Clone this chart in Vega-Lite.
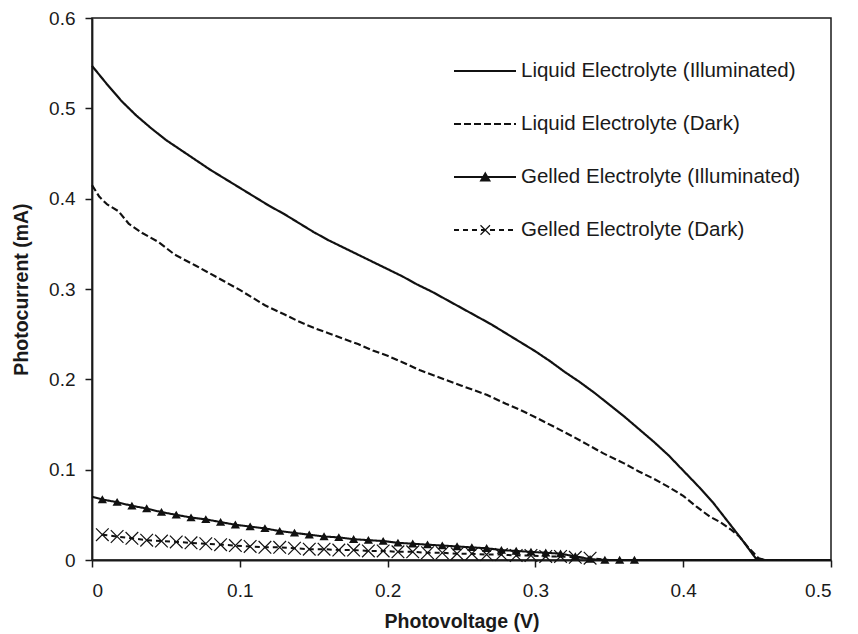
{
  "$schema": "https://vega.github.io/schema/vega-lite/v6.json",
  "width": 739,
  "height": 542,
  "autosize": {"type": "none"},
  "padding": {"left": 92, "top": 18, "right": 27, "bottom": 74},
  "background": "white",
  "config": {
    "font": "Liberation Sans",
    "view": {"stroke": "#1a1a1a", "strokeWidth": 1.5},
    "axis": {
      "grid": false,
      "domainColor": "#1a1a1a",
      "domainWidth": 1.8,
      "tickColor": "#1a1a1a",
      "tickWidth": 1.5,
      "tickSize": 7,
      "labelFont": "Liberation Sans",
      "labelFontSize": 19,
      "labelColor": "#1a1a1a",
      "titleFont": "Liberation Sans",
      "titleFontSize": 19.5,
      "titleFontWeight": "bold",
      "titleColor": "#1a1a1a"
    }
  },
  "data": {
    "values": [
      {"series": "Liquid Electrolyte (Illuminated)", "v": 0.000, "i": 0.547},
      {"series": "Liquid Electrolyte (Illuminated)", "v": 0.010, "i": 0.527},
      {"series": "Liquid Electrolyte (Illuminated)", "v": 0.020, "i": 0.508},
      {"series": "Liquid Electrolyte (Illuminated)", "v": 0.030, "i": 0.492},
      {"series": "Liquid Electrolyte (Illuminated)", "v": 0.040, "i": 0.478},
      {"series": "Liquid Electrolyte (Illuminated)", "v": 0.050, "i": 0.465},
      {"series": "Liquid Electrolyte (Illuminated)", "v": 0.060, "i": 0.454},
      {"series": "Liquid Electrolyte (Illuminated)", "v": 0.070, "i": 0.443},
      {"series": "Liquid Electrolyte (Illuminated)", "v": 0.080, "i": 0.432},
      {"series": "Liquid Electrolyte (Illuminated)", "v": 0.090, "i": 0.422},
      {"series": "Liquid Electrolyte (Illuminated)", "v": 0.100, "i": 0.412},
      {"series": "Liquid Electrolyte (Illuminated)", "v": 0.110, "i": 0.402},
      {"series": "Liquid Electrolyte (Illuminated)", "v": 0.120, "i": 0.392},
      {"series": "Liquid Electrolyte (Illuminated)", "v": 0.130, "i": 0.383},
      {"series": "Liquid Electrolyte (Illuminated)", "v": 0.140, "i": 0.373},
      {"series": "Liquid Electrolyte (Illuminated)", "v": 0.150, "i": 0.363},
      {"series": "Liquid Electrolyte (Illuminated)", "v": 0.160, "i": 0.354},
      {"series": "Liquid Electrolyte (Illuminated)", "v": 0.170, "i": 0.346},
      {"series": "Liquid Electrolyte (Illuminated)", "v": 0.180, "i": 0.338},
      {"series": "Liquid Electrolyte (Illuminated)", "v": 0.190, "i": 0.330},
      {"series": "Liquid Electrolyte (Illuminated)", "v": 0.200, "i": 0.322},
      {"series": "Liquid Electrolyte (Illuminated)", "v": 0.210, "i": 0.314},
      {"series": "Liquid Electrolyte (Illuminated)", "v": 0.220, "i": 0.305},
      {"series": "Liquid Electrolyte (Illuminated)", "v": 0.230, "i": 0.297},
      {"series": "Liquid Electrolyte (Illuminated)", "v": 0.240, "i": 0.288},
      {"series": "Liquid Electrolyte (Illuminated)", "v": 0.250, "i": 0.279},
      {"series": "Liquid Electrolyte (Illuminated)", "v": 0.260, "i": 0.270},
      {"series": "Liquid Electrolyte (Illuminated)", "v": 0.270, "i": 0.261},
      {"series": "Liquid Electrolyte (Illuminated)", "v": 0.280, "i": 0.251},
      {"series": "Liquid Electrolyte (Illuminated)", "v": 0.290, "i": 0.241},
      {"series": "Liquid Electrolyte (Illuminated)", "v": 0.300, "i": 0.231},
      {"series": "Liquid Electrolyte (Illuminated)", "v": 0.310, "i": 0.220},
      {"series": "Liquid Electrolyte (Illuminated)", "v": 0.320, "i": 0.208},
      {"series": "Liquid Electrolyte (Illuminated)", "v": 0.330, "i": 0.197},
      {"series": "Liquid Electrolyte (Illuminated)", "v": 0.340, "i": 0.185},
      {"series": "Liquid Electrolyte (Illuminated)", "v": 0.350, "i": 0.172},
      {"series": "Liquid Electrolyte (Illuminated)", "v": 0.360, "i": 0.159},
      {"series": "Liquid Electrolyte (Illuminated)", "v": 0.370, "i": 0.145},
      {"series": "Liquid Electrolyte (Illuminated)", "v": 0.380, "i": 0.131},
      {"series": "Liquid Electrolyte (Illuminated)", "v": 0.390, "i": 0.116},
      {"series": "Liquid Electrolyte (Illuminated)", "v": 0.400, "i": 0.099},
      {"series": "Liquid Electrolyte (Illuminated)", "v": 0.410, "i": 0.082},
      {"series": "Liquid Electrolyte (Illuminated)", "v": 0.420, "i": 0.064},
      {"series": "Liquid Electrolyte (Illuminated)", "v": 0.430, "i": 0.043},
      {"series": "Liquid Electrolyte (Illuminated)", "v": 0.440, "i": 0.022},
      {"series": "Liquid Electrolyte (Illuminated)", "v": 0.449, "i": 0.002},
      {"series": "Liquid Electrolyte (Illuminated)", "v": 0.455, "i": 0.000},
      {"series": "Liquid Electrolyte (Illuminated)", "v": 0.500, "i": 0.000},

      {"series": "Liquid Electrolyte (Dark)", "v": 0.000, "i": 0.415},
      {"series": "Liquid Electrolyte (Dark)", "v": 0.005, "i": 0.402},
      {"series": "Liquid Electrolyte (Dark)", "v": 0.010, "i": 0.394},
      {"series": "Liquid Electrolyte (Dark)", "v": 0.018, "i": 0.386},
      {"series": "Liquid Electrolyte (Dark)", "v": 0.025, "i": 0.372},
      {"series": "Liquid Electrolyte (Dark)", "v": 0.034, "i": 0.362},
      {"series": "Liquid Electrolyte (Dark)", "v": 0.045, "i": 0.352},
      {"series": "Liquid Electrolyte (Dark)", "v": 0.056, "i": 0.338},
      {"series": "Liquid Electrolyte (Dark)", "v": 0.070, "i": 0.326},
      {"series": "Liquid Electrolyte (Dark)", "v": 0.080, "i": 0.317},
      {"series": "Liquid Electrolyte (Dark)", "v": 0.090, "i": 0.308},
      {"series": "Liquid Electrolyte (Dark)", "v": 0.100, "i": 0.299},
      {"series": "Liquid Electrolyte (Dark)", "v": 0.117, "i": 0.282},
      {"series": "Liquid Electrolyte (Dark)", "v": 0.130, "i": 0.272},
      {"series": "Liquid Electrolyte (Dark)", "v": 0.140, "i": 0.264},
      {"series": "Liquid Electrolyte (Dark)", "v": 0.150, "i": 0.257},
      {"series": "Liquid Electrolyte (Dark)", "v": 0.160, "i": 0.251},
      {"series": "Liquid Electrolyte (Dark)", "v": 0.170, "i": 0.245},
      {"series": "Liquid Electrolyte (Dark)", "v": 0.180, "i": 0.239},
      {"series": "Liquid Electrolyte (Dark)", "v": 0.190, "i": 0.232},
      {"series": "Liquid Electrolyte (Dark)", "v": 0.200, "i": 0.226},
      {"series": "Liquid Electrolyte (Dark)", "v": 0.210, "i": 0.219},
      {"series": "Liquid Electrolyte (Dark)", "v": 0.222, "i": 0.210},
      {"series": "Liquid Electrolyte (Dark)", "v": 0.235, "i": 0.202},
      {"series": "Liquid Electrolyte (Dark)", "v": 0.250, "i": 0.193},
      {"series": "Liquid Electrolyte (Dark)", "v": 0.267, "i": 0.183},
      {"series": "Liquid Electrolyte (Dark)", "v": 0.280, "i": 0.173},
      {"series": "Liquid Electrolyte (Dark)", "v": 0.290, "i": 0.166},
      {"series": "Liquid Electrolyte (Dark)", "v": 0.300, "i": 0.158},
      {"series": "Liquid Electrolyte (Dark)", "v": 0.312, "i": 0.148},
      {"series": "Liquid Electrolyte (Dark)", "v": 0.325, "i": 0.137},
      {"series": "Liquid Electrolyte (Dark)", "v": 0.335, "i": 0.128},
      {"series": "Liquid Electrolyte (Dark)", "v": 0.346, "i": 0.118},
      {"series": "Liquid Electrolyte (Dark)", "v": 0.360, "i": 0.107},
      {"series": "Liquid Electrolyte (Dark)", "v": 0.370, "i": 0.098},
      {"series": "Liquid Electrolyte (Dark)", "v": 0.380, "i": 0.090},
      {"series": "Liquid Electrolyte (Dark)", "v": 0.390, "i": 0.081},
      {"series": "Liquid Electrolyte (Dark)", "v": 0.400, "i": 0.071},
      {"series": "Liquid Electrolyte (Dark)", "v": 0.409, "i": 0.059},
      {"series": "Liquid Electrolyte (Dark)", "v": 0.418, "i": 0.048},
      {"series": "Liquid Electrolyte (Dark)", "v": 0.425, "i": 0.042},
      {"series": "Liquid Electrolyte (Dark)", "v": 0.432, "i": 0.034},
      {"series": "Liquid Electrolyte (Dark)", "v": 0.438, "i": 0.026},
      {"series": "Liquid Electrolyte (Dark)", "v": 0.444, "i": 0.014},
      {"series": "Liquid Electrolyte (Dark)", "v": 0.451, "i": 0.002},
      {"series": "Liquid Electrolyte (Dark)", "v": 0.455, "i": 0.000},
      {"series": "Liquid Electrolyte (Dark)", "v": 0.500, "i": 0.000},

      {"series": "Gelled Electrolyte (Illuminated)", "v": 0.000, "i": 0.070},
      {"series": "Gelled Electrolyte (Illuminated)", "v": 0.007, "i": 0.067},
      {"series": "Gelled Electrolyte (Illuminated)", "v": 0.017, "i": 0.064},
      {"series": "Gelled Electrolyte (Illuminated)", "v": 0.027, "i": 0.060},
      {"series": "Gelled Electrolyte (Illuminated)", "v": 0.037, "i": 0.057},
      {"series": "Gelled Electrolyte (Illuminated)", "v": 0.047, "i": 0.053},
      {"series": "Gelled Electrolyte (Illuminated)", "v": 0.057, "i": 0.050},
      {"series": "Gelled Electrolyte (Illuminated)", "v": 0.067, "i": 0.047},
      {"series": "Gelled Electrolyte (Illuminated)", "v": 0.077, "i": 0.045},
      {"series": "Gelled Electrolyte (Illuminated)", "v": 0.087, "i": 0.042},
      {"series": "Gelled Electrolyte (Illuminated)", "v": 0.097, "i": 0.039},
      {"series": "Gelled Electrolyte (Illuminated)", "v": 0.107, "i": 0.037},
      {"series": "Gelled Electrolyte (Illuminated)", "v": 0.117, "i": 0.035},
      {"series": "Gelled Electrolyte (Illuminated)", "v": 0.127, "i": 0.032},
      {"series": "Gelled Electrolyte (Illuminated)", "v": 0.137, "i": 0.030},
      {"series": "Gelled Electrolyte (Illuminated)", "v": 0.147, "i": 0.028},
      {"series": "Gelled Electrolyte (Illuminated)", "v": 0.157, "i": 0.026},
      {"series": "Gelled Electrolyte (Illuminated)", "v": 0.167, "i": 0.025},
      {"series": "Gelled Electrolyte (Illuminated)", "v": 0.177, "i": 0.023},
      {"series": "Gelled Electrolyte (Illuminated)", "v": 0.187, "i": 0.022},
      {"series": "Gelled Electrolyte (Illuminated)", "v": 0.197, "i": 0.021},
      {"series": "Gelled Electrolyte (Illuminated)", "v": 0.207, "i": 0.019},
      {"series": "Gelled Electrolyte (Illuminated)", "v": 0.217, "i": 0.018},
      {"series": "Gelled Electrolyte (Illuminated)", "v": 0.227, "i": 0.017},
      {"series": "Gelled Electrolyte (Illuminated)", "v": 0.237, "i": 0.016},
      {"series": "Gelled Electrolyte (Illuminated)", "v": 0.247, "i": 0.015},
      {"series": "Gelled Electrolyte (Illuminated)", "v": 0.257, "i": 0.014},
      {"series": "Gelled Electrolyte (Illuminated)", "v": 0.267, "i": 0.013},
      {"series": "Gelled Electrolyte (Illuminated)", "v": 0.277, "i": 0.011},
      {"series": "Gelled Electrolyte (Illuminated)", "v": 0.287, "i": 0.010},
      {"series": "Gelled Electrolyte (Illuminated)", "v": 0.297, "i": 0.009},
      {"series": "Gelled Electrolyte (Illuminated)", "v": 0.307, "i": 0.008},
      {"series": "Gelled Electrolyte (Illuminated)", "v": 0.317, "i": 0.007},
      {"series": "Gelled Electrolyte (Illuminated)", "v": 0.327, "i": 0.004},
      {"series": "Gelled Electrolyte (Illuminated)", "v": 0.337, "i": 0.001},
      {"series": "Gelled Electrolyte (Illuminated)", "v": 0.347, "i": 0.000},
      {"series": "Gelled Electrolyte (Illuminated)", "v": 0.357, "i": 0.000},
      {"series": "Gelled Electrolyte (Illuminated)", "v": 0.367, "i": 0.000},
      {"series": "Gelled Electrolyte (Illuminated)", "v": 0.380, "i": 0.000},
      {"series": "Gelled Electrolyte (Illuminated)", "v": 0.500, "i": 0.000},

      {"series": "Gelled Electrolyte (Dark)", "v": 0.007, "i": 0.028},
      {"series": "Gelled Electrolyte (Dark)", "v": 0.017, "i": 0.026},
      {"series": "Gelled Electrolyte (Dark)", "v": 0.027, "i": 0.024},
      {"series": "Gelled Electrolyte (Dark)", "v": 0.037, "i": 0.022},
      {"series": "Gelled Electrolyte (Dark)", "v": 0.047, "i": 0.021},
      {"series": "Gelled Electrolyte (Dark)", "v": 0.057, "i": 0.020},
      {"series": "Gelled Electrolyte (Dark)", "v": 0.067, "i": 0.019},
      {"series": "Gelled Electrolyte (Dark)", "v": 0.077, "i": 0.018},
      {"series": "Gelled Electrolyte (Dark)", "v": 0.087, "i": 0.017},
      {"series": "Gelled Electrolyte (Dark)", "v": 0.097, "i": 0.016},
      {"series": "Gelled Electrolyte (Dark)", "v": 0.107, "i": 0.015},
      {"series": "Gelled Electrolyte (Dark)", "v": 0.117, "i": 0.014},
      {"series": "Gelled Electrolyte (Dark)", "v": 0.127, "i": 0.014},
      {"series": "Gelled Electrolyte (Dark)", "v": 0.137, "i": 0.013},
      {"series": "Gelled Electrolyte (Dark)", "v": 0.147, "i": 0.012},
      {"series": "Gelled Electrolyte (Dark)", "v": 0.157, "i": 0.012},
      {"series": "Gelled Electrolyte (Dark)", "v": 0.167, "i": 0.011},
      {"series": "Gelled Electrolyte (Dark)", "v": 0.177, "i": 0.011},
      {"series": "Gelled Electrolyte (Dark)", "v": 0.187, "i": 0.010},
      {"series": "Gelled Electrolyte (Dark)", "v": 0.197, "i": 0.010},
      {"series": "Gelled Electrolyte (Dark)", "v": 0.207, "i": 0.009},
      {"series": "Gelled Electrolyte (Dark)", "v": 0.217, "i": 0.009},
      {"series": "Gelled Electrolyte (Dark)", "v": 0.227, "i": 0.008},
      {"series": "Gelled Electrolyte (Dark)", "v": 0.237, "i": 0.008},
      {"series": "Gelled Electrolyte (Dark)", "v": 0.247, "i": 0.007},
      {"series": "Gelled Electrolyte (Dark)", "v": 0.257, "i": 0.007},
      {"series": "Gelled Electrolyte (Dark)", "v": 0.267, "i": 0.006},
      {"series": "Gelled Electrolyte (Dark)", "v": 0.277, "i": 0.006},
      {"series": "Gelled Electrolyte (Dark)", "v": 0.287, "i": 0.005},
      {"series": "Gelled Electrolyte (Dark)", "v": 0.297, "i": 0.005},
      {"series": "Gelled Electrolyte (Dark)", "v": 0.307, "i": 0.004},
      {"series": "Gelled Electrolyte (Dark)", "v": 0.317, "i": 0.004},
      {"series": "Gelled Electrolyte (Dark)", "v": 0.327, "i": 0.003},
      {"series": "Gelled Electrolyte (Dark)", "v": 0.337, "i": 0.002},
      {"series": "Gelled Electrolyte (Dark)", "v": 0.350, "i": 0.000},
      {"series": "Gelled Electrolyte (Dark)", "v": 0.500, "i": 0.000}
    ]
  },
  "encoding": {
    "x": {
      "field": "v",
      "type": "quantitative",
      "scale": {"domain": [0, 0.5], "nice": false, "zero": false},
      "axis": {"values": [0, 0.1, 0.2, 0.3, 0.4, 0.5], "format": "~g", "labelPadding": 14, "titlePadding": 12},
      "title": "Photovoltage (V)"
    },
    "y": {
      "field": "i",
      "type": "quantitative",
      "scale": {"domain": [0, 0.6], "nice": false},
      "axis": {"values": [0, 0.1, 0.2, 0.3, 0.4, 0.5, 0.6], "format": "~g", "labelPadding": 10, "titlePadding": 17},
      "title": "Photocurrent (mA)"
    }
  },
  "layer": [
    {
      "mark": {"type": "line", "color": "#111111", "strokeJoin": "round"},
      "encoding": {
        "strokeDash": {
          "field": "series",
          "type": "nominal",
          "scale": {
            "domain": ["Liquid Electrolyte (Illuminated)", "Liquid Electrolyte (Dark)", "Gelled Electrolyte (Illuminated)", "Gelled Electrolyte (Dark)"],
            "range": [[1, 0], [7, 3], [1, 0], [5, 4]]
          },
          "legend": {
            "orient": "none",
            "direction": "vertical",
            "legendX": 360.5,
            "legendY": 38,
            "title": null,
            "padding": 0,
            "symbolType": "stroke",
            "symbolSize": 3844,
            "symbolStrokeWidth": 2.5,
            "symbolStrokeColor": "#111111",
            "clipHeight": 30,
            "rowPadding": 23,
            "labelOffset": 3.5,
            "labelFont": "Liberation Sans",
            "labelFontSize": 20.5,
            "labelColor": "#1a1a1a",
            "labelLimit": 500,
            "encode": {
              "symbols": {
                "update": {
                  "strokeDash": {"signal": "indexof(datum.value, 'Dark') >= 0 ? [7, 6.75] : [1, 0]"},
                  "strokeWidth": {"value": 2.5}
                }
              }
            }
          }
        },
        "strokeWidth": {
          "field": "series",
          "type": "ordinal",
          "scale": {
            "domain": ["Liquid Electrolyte (Illuminated)", "Liquid Electrolyte (Dark)", "Gelled Electrolyte (Illuminated)", "Gelled Electrolyte (Dark)"],
            "range": [2.2, 2, 2.8, 1.8]
          },
          "legend": null
        }
      }
    },
    {
      "transform": [{"filter": "datum.series === 'Gelled Electrolyte (Dark)' && datum.v < 0.345"}],
      "mark": {"type": "point", "filled": false, "color": "#111111", "size": 160, "strokeWidth": 1.2, "opacity": 1},
      "encoding": {
        "shape": {
          "field": "series",
          "type": "nominal",
          "scale": {
            "domain": ["Gelled Electrolyte (Illuminated)", "Gelled Electrolyte (Dark)"],
            "range": [
              "M0,-0.9L-1,0.8L1,0.8ZM-0.88,0.6H0.88M-0.76,0.4H0.76M-0.65,0.2H0.65M-0.53,0H0.53M-0.41,-0.2H0.41M-0.29,-0.4H0.29M-0.18,-0.6H0.18",
              "M-1,-1L1,1M1,-1L-1,1"
            ]
          },
          "legend": {
            "orient": "none",
            "direction": "vertical",
            "legendX": 383,
            "legendY": 144,
            "title": null,
            "padding": 0,
            "symbolSize": 90,
            "symbolStrokeColor": "#111111",
            "symbolFillColor": "#111111",
            "symbolStrokeWidth": 1.2,
            "clipHeight": 30,
            "rowPadding": 23,
            "labelExpr": "''",
            "labelFontSize": 20.5
          }
        }
      }
    },
    {
      "transform": [{"filter": "datum.series === 'Gelled Electrolyte (Illuminated)' && datum.v > 0 && datum.v < 0.37"}],
      "mark": {"type": "point", "filled": true, "color": "#111111", "size": 85, "opacity": 1},
      "encoding": {
        "shape": {
          "field": "series",
          "type": "nominal",
          "scale": {
            "domain": ["Gelled Electrolyte (Illuminated)", "Gelled Electrolyte (Dark)"],
            "range": [
              "M0,-0.9L-1,0.8L1,0.8ZM-0.88,0.6H0.88M-0.76,0.4H0.76M-0.65,0.2H0.65M-0.53,0H0.53M-0.41,-0.2H0.41M-0.29,-0.4H0.29M-0.18,-0.6H0.18",
              "M-1,-1L1,1M1,-1L-1,1"
            ]
          }
        }
      }
    }
  ]
}
